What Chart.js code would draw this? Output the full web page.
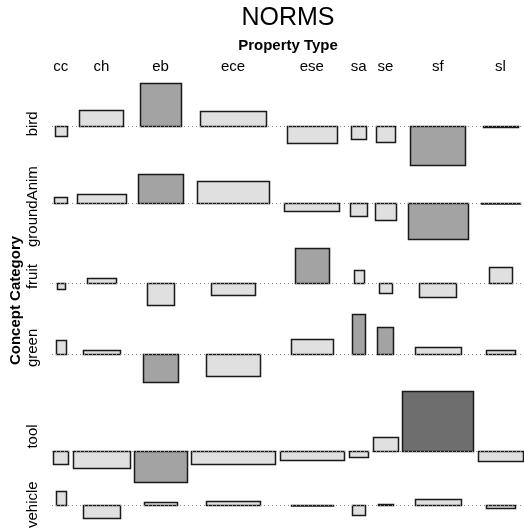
<!DOCTYPE html>
<html>
<head>
<meta charset="utf-8">
<script src="https://cdn.jsdelivr.net/npm/chart.js@4.4.0/dist/chart.umd.min.js"></script>
<style>
  html, body { margin: 0; padding: 0; background: #fff; }
  #wrap { width: 524px; height: 528px; }
</style>
</head>
<body>
<div id="wrap"><canvas id="assoc" width="524" height="528"></canvas></div>
<script>
// -------------- Data --------------
const propertyTypes = ['cc', 'ch', 'eb', 'ece', 'ese', 'sa', 'se', 'sf', 'sl'];
const conceptCategories = ['bird', 'groundAnim', 'fruit', 'green', 'tool', 'vehicle'];

// Pearson residuals per concept category, in propertyTypes order
const birdResid       = [-0.79, 1.36, 3.62, 1.31, -1.38, -1.05, -1.30, -3.19, -0.03];
const groundAnimResid = [0.50, 0.70, 2.37, 1.78, -0.67, -1.11, -1.42, -3.05, -0.03];
const fruitResid      = [-0.53, 0.42, -1.83, -1.00, 2.86, 1.08, -0.87, -1.17, 1.33];
const greenResid      = [1.17, 0.33, -2.33, -1.83, 1.25, 3.30, 2.22, 0.53, 0.33];
const toolResid       = [-1.03, -1.38, -2.55, -1.03, -0.69, -0.44, 1.20, 5.03, -0.80];
const vehicleResid    = [1.11, -1.11, 0.19, 0.31, -0.03, -0.89, 0.04, 0.50, -0.28];

// sqrt(expected count) of a cell = rowScale * colScale
const colScale = [1.54, 5.64, 5.20, 8.34, 6.44, 1.96, 2.43, 7.07, 4.50];
const rowScale = [0.78, 0.855, 0.52, 0.655, 1.00, 0.65];

// shading cut points for |residual|
const shadeLimits = [2, 4];

// -------------- Layout of the cells (association plot style) --------------
const residuals = [birdResid, groundAnimResid, fruitResid, greenResid, toolResid, vehicleResid];
const colGap = 0.48;
const rowGap = 0.78;

const colMax = colScale.map(c => Math.max(...rowScale.map(r => r * c)));
let xAcc = 0;
const colCenter = colMax.map(w => {
    const c = xAcc + w / 2;
    xAcc += w + colGap;
    return c;
});
const xTotal = xAcc - colGap;

let yAcc = 0;
const rowBase = [];
const rowMid = [];
residuals.forEach(r => {
    const up = Math.max(0, ...r);
    const down = Math.min(0, ...r);
    rowBase.push(-(yAcc + up));
    rowMid.push(-(yAcc + (up - down) / 2));
    yAcc += up - down + rowGap;
});
const yTotal = yAcc - rowGap;

// one point per cell, sitting on the row baseline
const cells = [];
residuals.forEach((r, i) => {
    r.forEach((v, j) => {
        cells.push({ x: colCenter[j], y: rowBase[i], w: rowScale[i] * colScale[j], r: v });
    });
});

function shade(v) {
    const a = Math.abs(v);
    if (a > shadeLimits[1]) return '#6e6e6e';
    if (a > shadeLimits[0]) return '#a3a3a3';
    return '#e0e0e0';
}

const FONT = '"Liberation Sans", Arial, Helvetica, sans-serif';

// draws the rectangles, baselines and labels from the scales
const assocPlugin = {
    id: 'assoc',
    afterDatasetsDraw(chart) {
        const { ctx, scales: { x, y }, chartArea } = chart;
        const data = chart.data.datasets[0].data;
        ctx.save();

        // cells
        data.forEach(d => {
            const x0 = Math.round(x.getPixelForValue(d.x - d.w / 2));
            const x1 = Math.round(x.getPixelForValue(d.x + d.w / 2));
            const yb = Math.round(y.getPixelForValue(d.y));
            const yt = Math.round(y.getPixelForValue(d.y + d.r));
            const top = Math.min(yb, yt), h = Math.abs(yb - yt);
            ctx.fillStyle = shade(d.r);
            ctx.fillRect(x0, top, x1 - x0, h);
            ctx.strokeStyle = '#1a1a1a';
            ctx.lineWidth = 1.5;
            ctx.strokeRect(x0 + 0.5, top + 0.5, x1 - x0, Math.max(h, 0.5));
        });

        // dotted baselines
        ctx.strokeStyle = '#8c8c8c';
        ctx.lineWidth = 1;
        ctx.setLineDash([1, 3]);
        rowBase.forEach(b => {
            const py = Math.round(y.getPixelForValue(b)) + 0.5;
            ctx.beginPath();
            ctx.moveTo(chartArea.left - 1, py);
            ctx.lineTo(chart.width, py);
            ctx.stroke();
        });
        ctx.setLineDash([]);

        const midX = (chartArea.left + chartArea.right) / 2;
        ctx.fillStyle = '#000';

        // title and column labels
        ctx.textAlign = 'center';
        ctx.textBaseline = 'alphabetic';
        ctx.font = '25px ' + FONT;
        ctx.fillText('NORMS', midX, 25);
        ctx.font = 'bold 15px ' + FONT;
        ctx.fillText('Property Type', midX, 50);
        ctx.font = '15px ' + FONT;
        propertyTypes.forEach((p, j) => {
            ctx.fillText(p, x.getPixelForValue(colCenter[j]), 71);
        });

        // row labels, rotated
        conceptCategories.forEach((c, i) => {
            ctx.save();
            ctx.translate(33, y.getPixelForValue(rowMid[i]));
            ctx.rotate(-Math.PI / 2);
            ctx.textBaseline = 'middle';
            ctx.font = '15px ' + FONT;
            ctx.fillText(c, 0, 0);
            ctx.restore();
        });
        ctx.save();
        ctx.translate(16, (chartArea.top + chartArea.bottom) / 2);
        ctx.rotate(-Math.PI / 2);
        ctx.textBaseline = 'middle';
        ctx.font = 'bold 15px ' + FONT;
        ctx.fillText('Concept Category', 0, 0);
        ctx.restore();

        ctx.restore();
    }
};

const assocCanvas = document.getElementById('assoc');
const assocChart = new Chart(assocCanvas, {
    type: 'scatter',
    data: {
        datasets: [{
            data: cells,
            pointRadius: 0,
            pointHoverRadius: 0
        }]
    },
    options: {
        responsive: false,
        animation: false,
        events: [],
        layout: { padding: { left: 53, right: 1, top: 83, bottom: 10 } },
        scales: {
            x: { type: 'linear', display: false, min: 0, max: xTotal },
            y: { type: 'linear', display: false, min: -yTotal, max: 0 }
        },
        plugins: {
            legend: { display: false },
            tooltip: { enabled: false }
        }
    },
    plugins: [assocPlugin]
});
</script>
</body>
</html>
